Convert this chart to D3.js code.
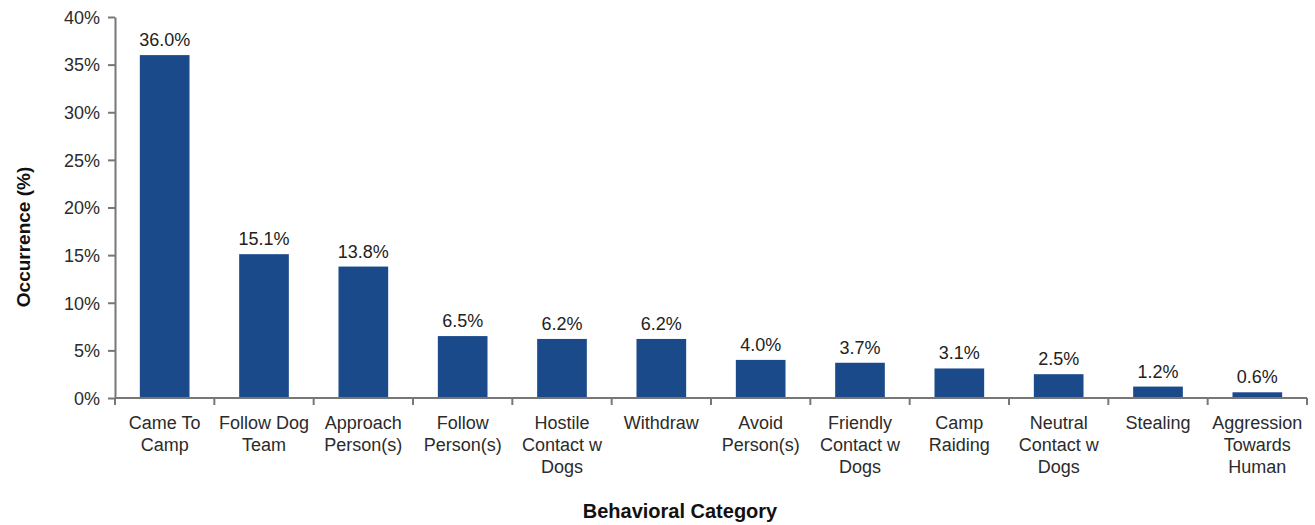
<!DOCTYPE html>
<html lang="en">
<head>
  <meta charset="UTF-8">
  <title>Behavioral Category Occurrence</title>
  <style>
    body { margin: 0; background: #fff; font-family: "Liberation Sans", Arial, sans-serif; }
    svg { display: block; }
    .tick text { fill: #2b2b2b; font-size: 18px; }
    .domain, .tick line { stroke: #777; stroke-width: 2px; }
    .value { fill: #222; font-size: 18px; text-anchor: middle; }
    .title { font-weight: bold; fill: #111; text-anchor: middle; }
  </style>
</head>
<body>
  <svg width="1315" height="525"></svg>
  <script src="https://d3js.org/d3.v7.min.js"></script>
  <script>
    const categories = [
      "Came To Camp", "Follow Dog Team", "Approach Person(s)", "Follow Person(s)",
      "Hostile Contact w Dogs", "Withdraw", "Avoid Person(s)", "Friendly Contact w Dogs",
      "Camp Raiding", "Neutral Contact w Dogs", "Stealing", "Aggression Towards Human"
    ];
    // label lines as they wrap in the chart
    const labelLines = [
      ["Came To", "Camp"], ["Follow Dog", "Team"], ["Approach", "Person(s)"], ["Follow", "Person(s)"],
      ["Hostile", "Contact w", "Dogs"], ["Withdraw"], ["Avoid", "Person(s)"], ["Friendly", "Contact w", "Dogs"],
      ["Camp", "Raiding"], ["Neutral", "Contact w", "Dogs"], ["Stealing"], ["Aggression", "Towards", "Human"]
    ];
    const values = [36.0, 15.1, 13.8, 6.5, 6.2, 6.2, 4.0, 3.7, 3.1, 2.5, 1.2, 0.6];
    const yTicks = [0, 5, 10, 15, 20, 25, 30, 35, 40];

    const svg = d3.select("svg");
    const margin = { left: 115, right: 8, top: 17, bottom: 127 };
    const width = 1315, height = 525;

    const x = d3.scaleBand()
      .domain(categories)
      .range([margin.left, width - margin.right])
      .paddingInner(0.5)
      .paddingOuter(0.25);

    const y = d3.scaleLinear()
      .domain([0, 40])
      .range([height - margin.bottom, margin.top]);

    // bars
    svg.append("g")
      .selectAll("rect")
      .data(values)
      .join("rect")
      .attr("x", (d, i) => x(categories[i]))
      .attr("y", d => y(d))
      .attr("width", x.bandwidth())
      .attr("height", d => y(0) - y(d))
      .attr("fill", "#1b4a8a");

    // value labels
    svg.append("g")
      .selectAll("text")
      .data(values)
      .join("text")
      .attr("class", "value")
      .attr("x", (d, i) => x(categories[i]) + x.bandwidth() / 2)
      .attr("y", d => y(d) - 9)
      .text(d => d.toFixed(1) + "%");

    // y axis
    svg.append("g")
      .attr("transform", `translate(${margin.left},0)`)
      .call(d3.axisLeft(y).tickValues(yTicks).tickFormat(d => d + "%").tickSize(7).tickSizeOuter(0).tickPadding(8))
      .call(g => g.selectAll(".tick text").attr("dy", "0.35em"));

    // x axis with ticks between categories
    const step = x.step();
    const x0 = margin.left;
    const xAxis = svg.append("g")
      .attr("transform", `translate(0,${y(0)})`);
    xAxis.append("line")
      .attr("class", "domain")
      .attr("x1", x0).attr("x2", width - margin.right);
    xAxis.selectAll("line.sep")
      .data(d3.range(categories.length + 1))
      .join("line")
      .attr("class", "sep")
      .attr("stroke", "#777").attr("stroke-width", 2)
      .attr("x1", i => x0 + i * step).attr("x2", i => x0 + i * step)
      .attr("y1", 0).attr("y2", 7);

    const lab = xAxis.selectAll("text.cat")
      .data(labelLines)
      .join("text")
      .attr("class", "cat")
      .attr("fill", "#2b2b2b")
      .attr("font-size", 18)
      .attr("text-anchor", "middle")
      .attr("transform", (d, i) => `translate(${x(categories[i]) + x.bandwidth() / 2},31)`);
    lab.selectAll("tspan")
      .data(d => d)
      .join("tspan")
      .attr("x", 0)
      .attr("y", (d, j) => j * 22)
      .text(d => d);

    // axis titles
    svg.append("text")
      .attr("class", "title")
      .attr("font-size", 19)
      .attr("transform", "translate(30,237) rotate(-90)")
      .text("Occurrence (%)");

    svg.append("text")
      .attr("class", "title")
      .attr("font-size", 20)
      .attr("x", 680)
      .attr("y", 518)
      .text("Behavioral Category");
  </script>
</body>
</html>
